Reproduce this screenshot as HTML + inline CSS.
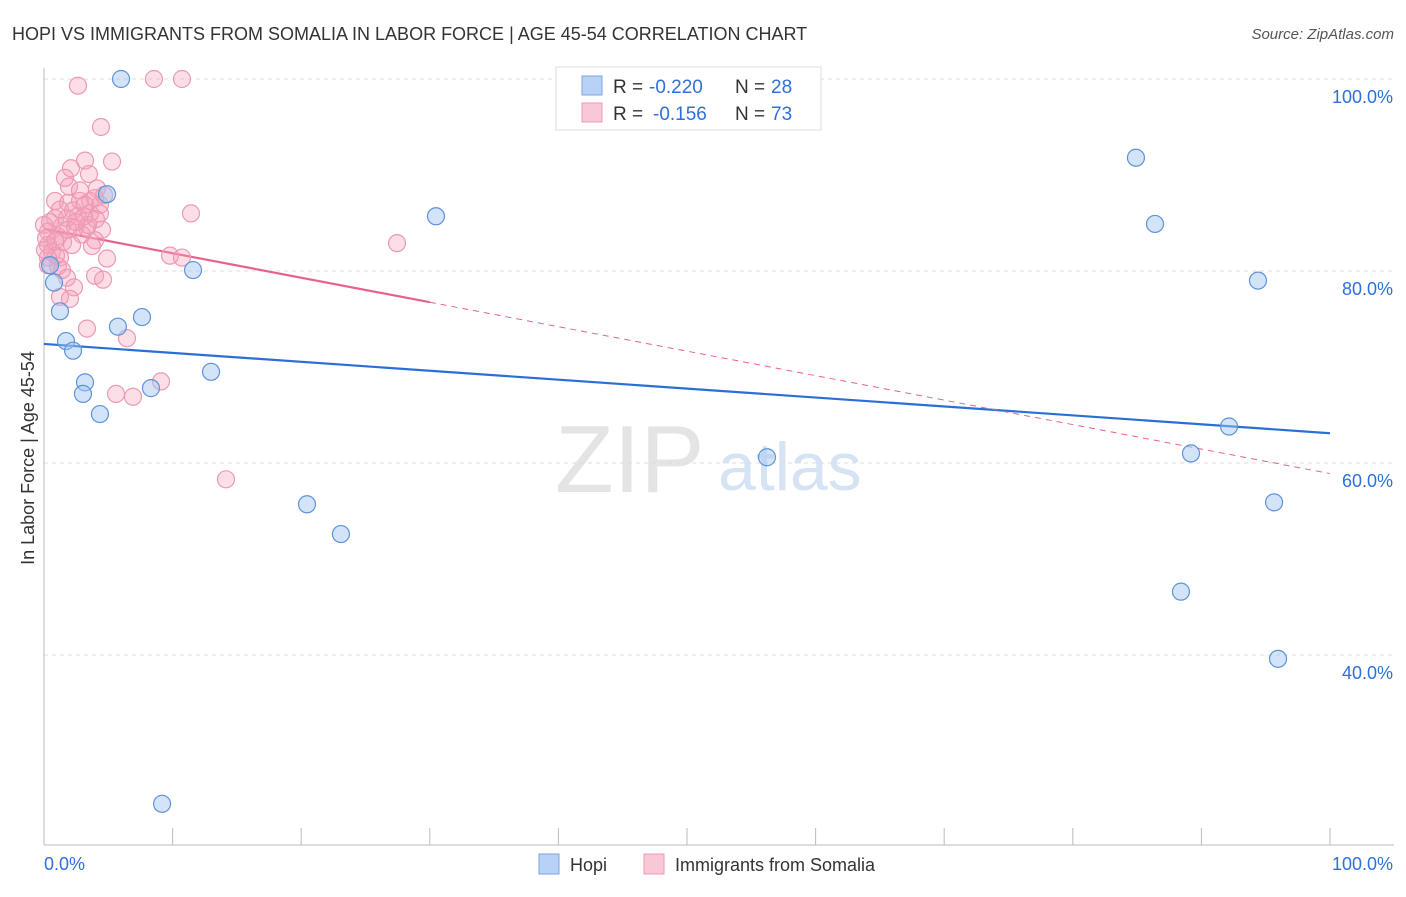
<!DOCTYPE html>
<html><head><meta charset="utf-8"><style>
body{margin:0;background:#fff;font-family:"Liberation Sans",sans-serif}
svg text{font-family:"Liberation Sans",sans-serif}
</style></head><body>
<svg width="1406" height="892" id="c">
<text x="12" y="40" font-size="18" fill="#333">HOPI VS IMMIGRANTS FROM SOMALIA IN LABOR FORCE | AGE 45-54 CORRELATION CHART</text>
<text x="1394" y="39" font-size="15" fill="#555" text-anchor="end" font-style="italic">Source: ZipAtlas.com</text>
<text x="34" y="458" font-size="18" fill="#333" text-anchor="middle" transform="rotate(-90 34 458)">In Labor Force | Age 45-54</text>
<g><text x="555" y="492" font-size="96" fill="#e4e4e4" font-family="Liberation Serif,serif">ZIP</text><text x="718" y="490" font-size="68" fill="#d6e3f5">atlas</text></g>
<g id="grid"></g><g id="axes"></g><g id="lines"></g><g id="pts"></g>
<g>
<rect x="556" y="67" width="265" height="63" fill="#fff" stroke="#ddd"/>
<rect x="582" y="76" width="20" height="19" fill="#b8d2f5" stroke="#7aa6e0"/>
<rect x="582" y="103" width="20" height="19" fill="#f9c8d6" stroke="#ee9ab3"/>
<text x="613" y="93" font-size="19" fill="#333">R =</text>
<text x="649" y="93" font-size="19" fill="#2f6fdc">-0.220</text>
<text x="735" y="93" font-size="19" fill="#333">N =</text>
<text x="771" y="93" font-size="19" fill="#2f6fdc">28</text>
<text x="613" y="120" font-size="19" fill="#333">R =</text>
<text x="653" y="120" font-size="19" fill="#2f6fdc">-0.156</text>
<text x="735" y="120" font-size="19" fill="#333">N =</text>
<text x="771" y="120" font-size="19" fill="#2f6fdc">73</text>
</g>
<g>
<rect x="539" y="854" width="20" height="20" fill="#b8d2f5" stroke="#7aa6e0"/>
<text x="570" y="871" font-size="18" fill="#333">Hopi</text>
<rect x="644" y="854" width="20" height="20" fill="#f9c8d6" stroke="#ee9ab3"/>
<text x="675" y="871" font-size="18" fill="#333">Immigrants from Somalia</text>
</g>
</svg>
<script>
const hopiX=[5.99,4.9,0.78,1.24,1.71,2.26,3.19,3.03,4.35,5.75,7.62,8.32,11.59,12.99,30.48,20.45,23.09,9.18,56.22,84.91,86.39,94.4,92.15,89.19,95.65,88.41,95.96,0.47];
const hopiY=[100,88,78.8,75.8,72.7,71.7,68.4,67.2,65.1,74.2,75.2,67.8,80.1,69.5,85.7,55.7,52.6,24.5,60.6,91.8,84.9,79,63.8,61,55.9,46.6,39.6,80.6];
const somX=[2.64,8.55,10.73,4.43,5.29,3.19,2.1,3.5,1.63,1.94,4.12,0.86,1.87,2.8,3.58,4.35,11.43,0.86,1.79,2.64,3.58,1.4,2.41,3.34,4.51,0.31,1.09,3.97,3.42,0.31,1.48,0.62,1.24,4.9,9.8,10.73,0.31,1.09,3.97,1.79,4.59,2.33,1.24,2.02,3.34,6.45,5.6,6.92,9.1,14.15,27.45,0,0.16,0.47,2.18,2.95,1.24,3.97,4.35,2.26,3.11,0.93,0.31,1.4,4.04,2.8,4.67,1.87,3.73,0.08,2.49,0.86,3.19];
const somY=[99.3,100,100,95,91.4,91.5,90.7,90.1,89.7,88.8,88.6,87.3,87.1,87.3,87.3,86,86,85.5,85.5,85.7,86,84.7,84.5,84.5,84.3,84.1,83.6,83.2,84.8,82.7,83,82,81.4,81.3,81.6,81.4,80.6,80.5,79.5,79.3,79.1,78.3,77.3,77.1,74,73,67.2,66.9,68.5,58.3,82.9,84.8,83.4,85.1,82.7,83.8,86.4,87.6,86.9,86.3,85.7,81.6,81.4,80.1,85.4,88.4,87.9,84.3,82.6,82.2,85.1,83.1,86.9];
const hopiTrend=[72.4,63.1];
const somTrend=[84.4,58.9];
const somSolidEnd=30;
const yTicks=[100,80,60,40];
const xTickLabels=["0.0%","100.0%"];
const NS="http://www.w3.org/2000/svg";
const X=v=>44+v*12.86, Y=v=>79+(100-v)*9.6;
function mk(p,t,a){const e=document.createElementNS(NS,t);for(const k in a)e.setAttribute(k,a[k]);document.getElementById(p).appendChild(e);return e;}
yTicks.forEach(t=>{
 const g=mk('grid','line',{x1:44,x2:1394,y1:Y(t),y2:Y(t),stroke:'#ddd','stroke-dasharray':'4 4'});
 
 
 const l=mk('grid','text',{x:1393,y:Y(t)+24,'font-size':18,fill:'#2f6fdc','text-anchor':'end'});l.textContent=t.toFixed(1)+'%';
 
 
});
mk('axes','line',{x1:44,x2:44,y1:68,y2:845,stroke:'#bbb'});
mk('axes','line',{x1:44,x2:1394,y1:845,y2:845,stroke:'#bbb'});
for(let i=0;i<=10;i++){mk('axes','line',{x1:X(i*10),x2:X(i*10),y1:828,y2:845,stroke:'#bbb'});}
let t1=mk('axes','text',{x:44,y:870,'font-size':18,fill:'#2f6fdc'});t1.textContent=xTickLabels[0];


let t2=mk('axes','text',{x:1393,y:870,'font-size':18,fill:'#2f6fdc','text-anchor':'end'});t2.textContent=xTickLabels[1];


const sv=x=>somTrend[0]+(somTrend[1]-somTrend[0])*x/100;
let a=mk('lines','line',{x1:X(0),y1:Y(hopiTrend[0]),x2:X(100),y2:Y(hopiTrend[1]),stroke:'#2a6fd6','stroke-width':2.2});


let b=mk('lines','line',{x1:X(0),y1:Y(sv(0)),x2:X(somSolidEnd),y2:Y(sv(somSolidEnd)),stroke:'#e8628e','stroke-width':2.2});


let d=mk('lines','line',{x1:X(somSolidEnd),y1:Y(sv(somSolidEnd)),x2:X(100),y2:Y(sv(100)),stroke:'#e8628e','stroke-width':1,'stroke-dasharray':'6 5'});


somX.forEach((x,i)=>{const c=mk('pts','circle',{cx:X(x),cy:Y(somY[i]),r:8.5,fill:'rgba(245,160,185,0.35)',stroke:'#ec9ab4','stroke-width':1.2});

});
hopiX.forEach((x,i)=>{const c=mk('pts','circle',{cx:X(x),cy:Y(hopiY[i]),r:8.5,fill:'rgba(160,195,240,0.45)',stroke:'#5d93db','stroke-width':1.2});

});
</script>
</body></html>
